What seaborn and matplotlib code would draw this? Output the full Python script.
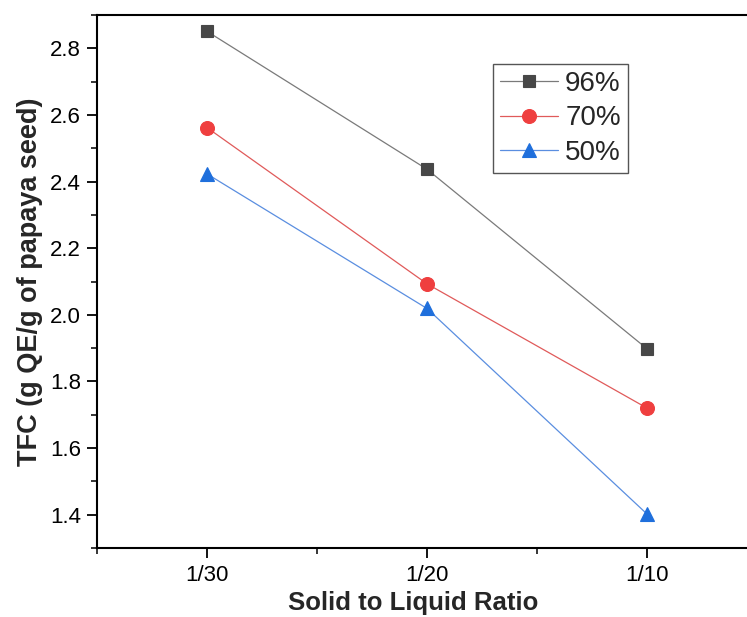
import matplotlib
matplotlib.use("Agg")
import matplotlib.pyplot as plt
from matplotlib.ticker import FixedLocator
import seaborn as sns
import pandas as pd

# ---- data ----
ratios = ["1/30", "1/20", "1/10"]
tfc_96 = [2.851, 2.437, 1.898]
tfc_70 = [2.562, 2.093, 1.720]
tfc_50 = [2.423, 2.019, 1.402]
series_labels = ["96%", "70%", "50%"]
y_major = [1.4, 1.6, 1.8, 2.0, 2.2, 2.4, 2.6, 2.8]
y_major_labels = ["1.4", "1.6", "1.8", "2.0", "2.2", "2.4", "2.6", "2.8"]

sns.set_theme(style="ticks")
plt.rcParams["font.family"] = ["Liberation Sans", "DejaVu Sans"]

fig = plt.figure(figsize=(7.47, 6.17), dpi=100)
ax = fig.add_axes([97 / 747, (617 - 548) / 617, 660 / 747, 533 / 617])

styles = [
    dict(marker="s", color="#7a7a7a", mfc="#474747", mec="#474747", ms=9),
    dict(marker="o", color="#e05a5a", mfc="#ef3f3f", mec="#ef3f3f", ms=10),
    dict(marker="^", color="#5a8ee0", mfc="#1f6fdc", mec="#1f6fdc", ms=10.5),
]

for vals, lab, st in zip([tfc_96, tfc_70, tfc_50], series_labels, styles):
    df = pd.DataFrame({"ratio": ratios, "tfc": vals})
    sns.lineplot(data=df, x="ratio", y="tfc", ax=ax, label=lab,
                 color=st["color"], marker=st["marker"],
                 markerfacecolor=st["mfc"], markeredgecolor=st["mec"],
                 markeredgewidth=0.8, markersize=st["ms"], linewidth=0.9,
                 sort=False)

ax.set_xlim(-0.5, 2.5)
ax.set_ylim(1.3, 2.9)
ax.yaxis.set_major_locator(FixedLocator(y_major))
ax.yaxis.set_minor_locator(FixedLocator([1.3, 1.5, 1.7, 1.9, 2.1, 2.3, 2.5, 2.7, 2.9]))
ax.xaxis.set_minor_locator(FixedLocator([-0.5, 0.5, 1.5, 2.5]))
ax.set_yticklabels(y_major_labels)

for sp in ax.spines.values():
    sp.set_visible(True)
    sp.set_linewidth(1.5)
    sp.set_color("black")

ax.tick_params(axis="both", which="major", direction="out", length=7.5,
               width=1.3, labelsize=16, colors="black")
ax.tick_params(axis="both", which="minor", direction="out", length=4.5,
               width=1.3)
ax.tick_params(axis="y", which="major", pad=4)
ax.tick_params(axis="x", which="major", pad=5)
ax.tick_params(top=False, right=False, which="both")

ax.set_xlabel("Solid to Liquid Ratio", fontsize=18.5, fontweight="bold")
ax.set_ylabel("TFC (g QE/g of papaya seed)", fontsize=19.5, fontweight="bold")
ax.xaxis.set_label_coords(0.479, -0.08)
ax.yaxis.set_label_coords(-0.082, 0.5)

leg = ax.legend(loc="upper left", bbox_to_anchor=(0.6, 0.908),
                borderaxespad=0, fontsize=20, handlelength=2.1,
                handletextpad=0.25, labelspacing=0.3, borderpad=0.25,
                fancybox=False, frameon=True, framealpha=1)
leg.get_frame().set_edgecolor("#555555")
leg.get_frame().set_linewidth(1.0)

fig.savefig("out.png", dpi=100)
